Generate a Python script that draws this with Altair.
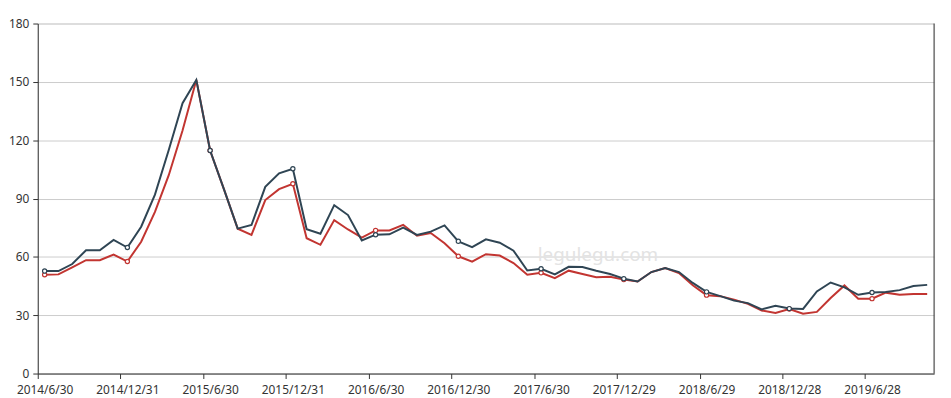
import altair as alt
import pandas as pd

dates = [
    "2014/6/30", "2014/7/31", "2014/8/29", "2014/9/30", "2014/10/31", "2014/11/28", "2014/12/31",
    "2015/1/30", "2015/2/27", "2015/3/31", "2015/4/30", "2015/5/29", "2015/6/30", "2015/7/31",
    "2015/8/31", "2015/9/30", "2015/10/30", "2015/11/30", "2015/12/31", "2016/1/29", "2016/2/29",
    "2016/3/31", "2016/4/29", "2016/5/31", "2016/6/30", "2016/7/29", "2016/8/31", "2016/9/30",
    "2016/10/31", "2016/11/30", "2016/12/30", "2017/1/26", "2017/2/28", "2017/3/31", "2017/4/28",
    "2017/5/31", "2017/6/30", "2017/7/31", "2017/8/31", "2017/9/29", "2017/10/31", "2017/11/30",
    "2017/12/29", "2018/1/31", "2018/2/28", "2018/3/30", "2018/4/27", "2018/5/31", "2018/6/29",
    "2018/7/31", "2018/8/31", "2018/9/28", "2018/10/31", "2018/11/30", "2018/12/28", "2019/1/31",
    "2019/2/28", "2019/3/29", "2019/4/30", "2019/5/31", "2019/6/28", "2019/7/31", "2019/8/30",
    "2019/9/30", "2019/10/31",
]

series_dark = [
    52.7, 52.7, 56.3, 63.4, 63.4, 68.7, 64.8, 75.5, 92.0, 115.0,
    139.0, 151.0, 114.7, 94.8, 74.5, 76.4, 96.0, 103.0, 105.3, 74.2,
    71.9, 86.6, 81.5, 68.4, 71.4, 71.6, 75.0, 71.3, 73.0, 76.2,
    68.0, 65.0, 69.0, 67.3, 63.2, 53.0, 53.9, 51.0, 54.9, 54.8,
    52.9, 51.2, 48.8, 47.3, 52.2, 54.3, 52.2, 46.6, 42.0, 39.8,
    37.5, 36.2, 33.0, 34.8, 33.4, 33.2, 42.2, 46.8, 44.3, 40.5,
    41.7, 41.9, 42.9, 45.0, 45.6,
]

series_red = [
    50.8, 51.0, 54.6, 58.3, 58.3, 61.2, 57.6, 67.8, 83.1, 102.0,
    125.0, 151.0, 114.7, 94.8, 74.5, 71.3, 89.2, 94.8, 97.6, 69.6,
    66.2, 78.9, 74.1, 69.9, 73.6, 73.6, 76.5, 70.9, 72.3, 67.0,
    60.3, 57.5, 61.4, 60.7, 56.8, 50.8, 51.8, 49.1, 52.9, 51.2,
    49.5, 49.8, 48.3, 47.3, 52.2, 54.3, 51.7, 45.4, 40.3, 39.8,
    38.0, 35.8, 32.4, 31.1, 33.2, 30.8, 31.7, 38.8, 45.3, 38.5,
    38.5, 41.6, 40.5, 40.9, 40.9,
]

y_ticks = [0, 30, 60, 90, 120, 150, 180]
watermark = "legulegu.com"

DARK = "#2f4554"
RED = "#c23531"
FONT = "Noto Sans"

W, H = 904, 353
half_step = W / len(dates) / 2

df = pd.DataFrame({"date": dates, "dark": series_dark, "red": series_red})
df["idx"] = range(len(df))
shown = dates[::6]

x_enc = alt.X(
    "date:O",
    sort=dates,
    scale=alt.Scale(type="point", padding=0.5),
    axis=alt.Axis(
        values=shown,
        title=None,
        labelAngle=0,
        tickOffset=-half_step,
        labelOffset=half_step,
        domainColor="#333333",
        tickColor="#333333",
        tickSize=5,
        labelColor="#333333",
        labelFontSize=12,
        labelFont=FONT,
        labelPadding=6,
        grid=False,
    ),
)

y_scale = alt.Scale(domain=[0, 180], nice=False, zero=True)
y_axis = alt.Axis(
    values=y_ticks,
    title=None,
    domainColor="#333333",
    tickColor="#333333",
    tickSize=5,
    labelColor="#333333",
    labelFontSize=12,
    labelFont=FONT,
    labelPadding=4,
    grid=True,
    gridColor="#cccccc",
    gridWidth=1,
)


def y_enc(field):
    return alt.Y(f"{field}:Q", scale=y_scale, axis=y_axis)


base = alt.Chart(df)
marked = base.transform_filter("datum.idx % 6 == 0")

red_line = base.mark_line(color=RED, strokeWidth=2).encode(x=x_enc, y=y_enc("red"))
red_pts = marked.mark_point(
    shape="circle", filled=True, fill="white", stroke=RED, strokeWidth=1.2, size=18, opacity=1
).encode(x=x_enc, y=y_enc("red"))
dark_line = base.mark_line(color=DARK, strokeWidth=2).encode(x=x_enc, y=y_enc("dark"))
dark_pts = marked.mark_point(
    shape="circle", filled=True, fill="white", stroke=DARK, strokeWidth=1.2, size=18, opacity=1
).encode(x=x_enc, y=y_enc("dark"))

wm = alt.Chart(pd.DataFrame({"t": [watermark]})).mark_text(
    fontSize=19, font=FONT, color="#e3e3e3", align="center", baseline="middle"
).encode(text="t:N", x=alt.value(565), y=alt.value(233))

right_line = alt.Chart(pd.DataFrame({"a": [0]})).mark_rule(color="#333333", strokeWidth=1).encode(
    x=alt.value(W), y=alt.value(0), y2=alt.value(H)
)

chart = (
    alt.layer(red_line, wm, red_pts, dark_line, dark_pts, right_line)
    .properties(
        width=W,
        height=H,
        autosize=alt.AutoSizeParams(type="none"),
        padding={"left": 30, "top": 14, "right": 9, "bottom": 22},
    )
    .configure_view(strokeWidth=0)
    .configure(background="white")
)

chart.save("out.html", embed_options={"renderer": "svg", "actions": False})
